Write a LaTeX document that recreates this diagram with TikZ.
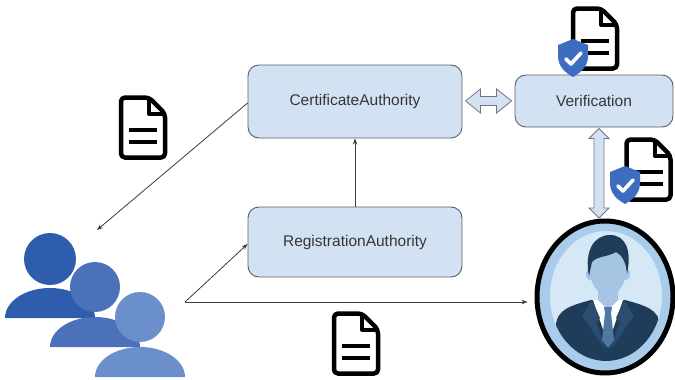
\documentclass[tikz,border=0pt]{standalone}
\usepackage{fontspec}
\setmainfont{Liberation Sans}
\usetikzlibrary{arrows.meta,calc,shapes.geometric}
\definecolor{boxfill}{HTML}{D2E2F2}
\definecolor{boxline}{HTML}{5A5F66}
\definecolor{wire}{HTML}{3C3C3C}
\definecolor{labeltext}{HTML}{363636}
\definecolor{userA}{HTML}{2F5DAE}
\definecolor{userB}{HTML}{4A71BA}
\definecolor{userC}{HTML}{6A8FCB}
\definecolor{shieldblue}{HTML}{3D6DC0}
\definecolor{ring}{HTML}{A9CCEA}
\definecolor{disk}{HTML}{D6E7F5}
\definecolor{skin}{HTML}{A6C5E2}
\definecolor{navy}{HTML}{1F3C5A}
\definecolor{lapel}{HTML}{2C4D70}
\definecolor{tiecol}{HTML}{4F79A4}

\begin{document}
\begin{tikzpicture}[x=1pt,y=-1pt,
  authority/.style={draw=boxline, line width=0.9pt, fill=boxfill,
    rounded corners=11pt, inner sep=0pt,
    font=\fontsize{15.5}{18}\selectfont, text=labeltext},
  link/.style={draw=wire, line width=0.8pt, -{Stealth[length=6pt,width=4.5pt]}},
  blockarrow/.style={draw=boxline!85, line width=0.8pt, fill=boxfill, line join=miter},
  docicon/.pic={
    \draw[line width=4.5pt, fill=white, rounded corners=4pt, line join=round]
      (-22,-30) -- (6,-30) -- (22,-14) -- (22,30) -- (-22,30) -- cycle;
    \draw[line width=4pt, line join=round] (6,-30) -- (6,-14) -- (22,-14);
    \draw[line width=4pt] (-14,2.5) -- (14,2.5) (-14,14.5) -- (14,14.5);
  },
  shieldicon/.pic={
    \fill[shieldblue] (0,-19) -- (15,-13) -- (15,-2)
      .. controls (15,9) and (7,15) .. (0,19)
      .. controls (-7,15) and (-15,9) .. (-15,-2) -- (-15,-13) -- cycle;
    \draw[white, line width=3.6pt, line cap=round, line join=round]
      (-7,1) -- (-2,6) -- (8,-5);
  }
]
\useasboundingbox (0,0) rectangle (675,380);

% authorities and verification service
\node[authority, minimum width=214pt, minimum height=73pt] (ca) at (355,101.5) {CertificateAuthority};
\node[authority, minimum width=214pt, minimum height=70pt] (ra) at (355,242) {RegistrationAuthority};
\node[authority, minimum width=158pt, minimum height=52pt] (ver) at (594,101) {Verification};

% subscriber portrait
\node[draw=black, line width=5pt, fill=ring, ellipse, inner sep=0pt,
      minimum width=136pt, minimum height=152pt] (person) at (605,297) {};
\fill[disk] (606,296) ellipse [x radius=56, y radius=65];
\begin{scope}
  \clip (606,296) ellipse [x radius=56, y radius=65];
  % jacket
  \fill[navy] (556,370) -- (556,326) .. controls (556,309) and (573,305) .. (591,300)
    -- (625,300) .. controls (643,305) and (660,309) .. (660,326) -- (660,370) -- cycle;
  % shirt
  \fill[white] (593,300) -- (623,300) -- (608,344) -- cycle;
  % lapels
  \fill[lapel] (592,300) -- (600,318) -- (596,322) -- (606,350) -- (582,316) -- cycle;
  \fill[lapel] (624,300) -- (616,318) -- (620,322) -- (610,350) -- (634,316) -- cycle;
  % neck
  \fill[skin] (598,284) -- (598,300) -- (608,310) -- (618,300) -- (618,284) -- cycle;
  % tie
  \fill[tiecol] (604,307) -- (612,307) -- (611,313) -- (605,313) -- cycle;
  \fill[tiecol] (605,313) -- (611,313) -- (614,340) -- (608,348) -- (602,340) -- cycle;
  % head
  \fill[skin] (590,274) ellipse [x radius=4, y radius=6];
  \fill[skin] (626,274) ellipse [x radius=4, y radius=6];
  \fill[skin] (608,271) ellipse [x radius=18, y radius=24];
  % hair
  \fill[navy] (589,276) .. controls (584,251) and (594,235) .. (610,235)
    .. controls (626,235) and (632,251) .. (627,274)
    .. controls (626,262) and (622,255) .. (616,252)
    .. controls (608,257) and (597,256) .. (592,262) -- cycle;
\end{scope}

% group of users
\coordinate (users) at (97,230);
\fill[userA] (50,259) circle (26);
\fill[userA] (5,318) arc[start angle=180, end angle=360, x radius=45, y radius=30] -- cycle;
\fill[userB] (95,287) circle (25);
\fill[userB] (50,347) arc[start angle=180, end angle=360, x radius=45, y radius=30] -- cycle;
\fill[userC] (140,317) circle (25);
\fill[userC] (95,377) arc[start angle=180, end angle=360, x radius=45, y radius=30] -- cycle;

% thin connectors
\coordinate (hub) at (185,302);
\draw[link] ($(ca.west)+(0,1.5)$) -- (users);
\draw[link] (ra.north) -- (ca.south);
\draw[link] (hub) -- ($(ra.west)+(0,2)$);
\draw[link, shorten >=7pt] (hub) -- (hub -| person.west);

% two-way block arrows
\coordinate (hl) at ($(ca.east)+(3,-0.5)$);
\coordinate (hr) at ($(hl -| ver.west)+(-3,0)$);
\draw[blockarrow] (hl) -- ($(hl)+(15,-12)$) -- ($(hl)+(15,-4.5)$) -- ($(hr)+(-15,-4.5)$)
  -- ($(hr)+(-15,-12)$) -- (hr) -- ($(hr)+(-15,12)$) -- ($(hr)+(-15,4.5)$)
  -- ($(hl)+(15,4.5)$) -- ($(hl)+(15,12)$) -- cycle;
\coordinate (vt) at ($(ver.south)+(5,1)$);
\coordinate (vb) at ($(vt |- person.north)+(0,-0.5)$);
\draw[blockarrow] (vt) -- ($(vt)+(10,10)$) -- ($(vt)+(5,10)$) -- ($(vb)+(5,-10)$)
  -- ($(vb)+(10,-10)$) -- (vb) -- ($(vb)+(-10,-10)$) -- ($(vb)+(-5,-10)$)
  -- ($(vt)+(-5,10)$) -- ($(vt)+(-10,10)$) -- cycle;

% documents
\pic at (143,127.5) {docicon};
\pic at (356,343.5) {docicon};
\pic at (595,38.5) {docicon};
\pic at (648.5,169.5) {docicon};
\pic at (573,58) {shieldicon};
\pic at (625,185) {shieldicon};
\end{tikzpicture}
\end{document}
